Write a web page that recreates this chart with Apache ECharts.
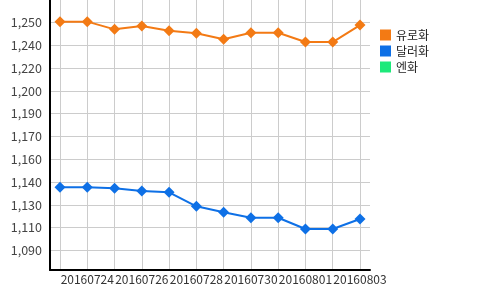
<!DOCTYPE html>
<html>
<head>
<meta charset="utf-8">
<script src="https://cdn.jsdelivr.net/npm/echarts@6/dist/echarts.min.js"></script>
<style>html,body{margin:0;padding:0;background:#fff}#c{width:500px;height:290px}</style>
</head>
<body>
<div id="c"></div>
<script>
var categories = ['20160723','20160724','20160725','20160726','20160727','20160728','20160729','20160730','20160731','20160801','20160802','20160803'];
var seriesNames = ['유로화', '달러화', '엔화'];
var euroValues = [1250.6, 1250.6, 1245.2, 1247.5, 1244.2, 1242.4, 1238.2, 1242.8, 1242.8, 1236.3, 1236.3, 1248.2];
var dollarValues = [1134.4, 1134.4, 1133.6, 1131.8, 1130.8, 1121.0, 1116.8, 1113.0, 1113.0, 1105.1, 1105.1, 1112.1];
var yenValues = [];
var yTickValues = [1090, 1106, 1122, 1138, 1154, 1170, 1186, 1202, 1218, 1234, 1250];
var yTickLabels = ['1,090', '1,110', '1,130', '1,140', '1,160', '1,170', '1,190', '1,200', '1,220', '1,240', '1,250'];
var yMin = 1076.3, yMax = 1265.8;

var font = '"Noto Sans CJK KR", "Noto Sans", sans-serif';
var colors = ['#F37A14', '#0E70E6', '#1DE97A'];

var chart = echarts.init(document.getElementById('c'), null, {renderer: 'canvas'});
chart.setOption({
  animation: false,
  color: colors,
  textStyle: {fontFamily: font},
  legend: {
    orient: 'vertical',
    left: 380, top: 29, padding: 0,
    icon: 'rect', itemWidth: 11, itemHeight: 11, itemGap: 4,
    textStyle: {fontSize: 12, color: '#222', fontFamily: font},
    data: seriesNames
  },
  grid: [
    {left: 50, right: 130, top: 0, bottom: 20, containLabel: false},
    {left: 60, right: 140, top: 0, bottom: 20, containLabel: false}
  ],
  xAxis: [
    {gridIndex: 0, type: 'value', min: 0, max: 1, axisLabel: {show: false}, axisTick: {show: false}, splitLine: {show: false},
     axisLine: {show: true, lineStyle: {color: '#000', width: 2}}},
    {gridIndex: 1, type: 'category', boundaryGap: false, data: categories,
     axisLine: {show: false}, axisTick: {show: false},
     axisLabel: {interval: function (i) { return i % 2 === 1; }, fontSize: 12, color: '#333', margin: 3, fontFamily: font,
       hideOverlap: false, showMinLabel: true, showMaxLabel: true},
     splitLine: {show: true, interval: 0, lineStyle: {color: '#cccccc', width: 1}}}
  ],
  yAxis: [
    {gridIndex: 0, type: 'value', min: yMin, max: yMax,
     axisLine: {show: true, lineStyle: {color: '#000', width: 2}},
     axisTick: {show: false, customValues: yTickValues},
     axisLabel: {customValues: yTickValues, fontSize: 12.5, color: '#444', margin: 8, fontFamily: font,
       formatter: function (v) { var i = yTickValues.indexOf(v); return i >= 0 ? yTickLabels[i] : ''; }},
     splitLine: {show: true, lineStyle: {color: '#cccccc', width: 1}}},
    {gridIndex: 1, type: 'value', min: yMin, max: yMax, show: false, splitLine: {show: false}}
  ],
  series: [
    {name: seriesNames[0], type: 'line', xAxisIndex: 1, yAxisIndex: 1, data: euroValues,
     symbol: 'diamond', symbolSize: 11, lineStyle: {width: 2}},
    {name: seriesNames[1], type: 'line', xAxisIndex: 1, yAxisIndex: 1, data: dollarValues,
     symbol: 'diamond', symbolSize: 11, lineStyle: {width: 2}},
    {name: seriesNames[2], type: 'line', xAxisIndex: 1, yAxisIndex: 1, data: yenValues,
     symbol: 'diamond', symbolSize: 11, lineStyle: {width: 2}}
  ]
});
</script>
</body>
</html>
